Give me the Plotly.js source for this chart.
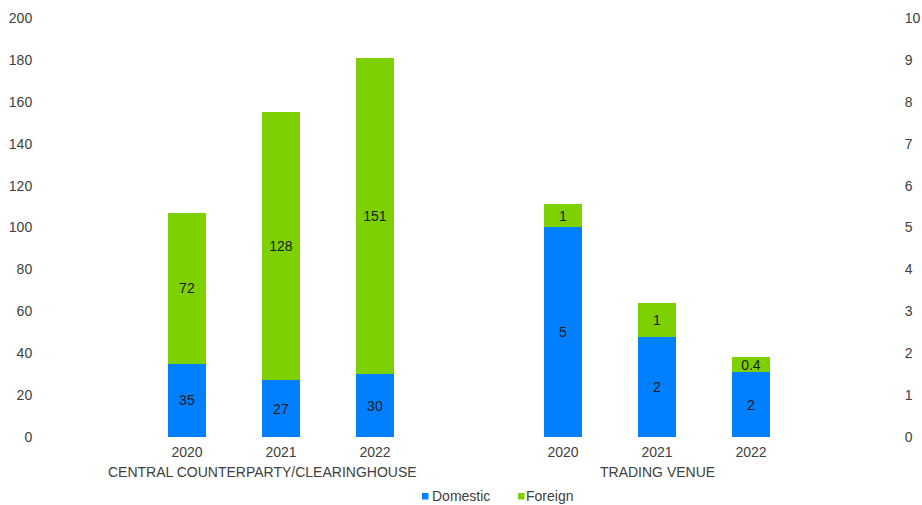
<!DOCTYPE html>
<html>
<head>
<meta charset="utf-8">
<script src="https://cdn.plot.ly/plotly-3.0.1.min.js"></script>
<style>
  html, body { margin: 0; padding: 0; background: #ffffff; }
  #chart { width: 922px; height: 505px; }
</style>
</head>
<body>
<div id="chart"></div>
<script>
// Categories
const years = ["2020", "2021", "2022"];
const groupNames = ["CENTRAL COUNTERPARTY/CLEARINGHOUSE", "TRADING VENUE"];
const seriesNames = ["Domestic", "Foreign"];

// Central counterparty / clearinghouse (left axis)
const ccpDomestic = [35, 27, 30];
const ccpForeign = [72, 128, 151];

// Trading venue (right axis)
const tvDomestic = [5.02, 2.38, 1.54];
const tvForeign = [0.53, 0.81, 0.36];

// Axis ticks
const leftTicks = [0, 20, 40, 60, 80, 100, 120, 140, 160, 180, 200];
const rightTicks = [0, 1, 2, 3, 4, 5, 6, 7, 8, 9, 10];

const BLUE = "#0080FF";
const GREEN = "#7ED100";
const FONT = "Liberation Sans, Arial, sans-serif";

// Whole numbers, one decimal for small values
function fmt(v) {
  return v < 0.5 ? v.toFixed(1) : String(Math.round(v));
}

function barTrace(y, color, name, xa, ya) {
  return {
    type: "bar",
    x: years,
    y: y,
    name: name,
    xaxis: xa,
    yaxis: ya,
    marker: { color: color, line: { width: 0 } },
    text: y.map(fmt),
    textposition: "inside",
    insidetextanchor: "middle",
    textangle: 0,
    constraintext: "none",
    textfont: { family: FONT, size: 14, color: "#1a1a1a" },
    hoverinfo: "none",
    showlegend: false,
    cliponaxis: false
  };
}

const data = [
  barTrace(ccpDomestic, BLUE, seriesNames[0], "x", "y"),
  barTrace(ccpForeign, GREEN, seriesNames[1], "x", "y"),
  barTrace(tvDomestic, BLUE, seriesNames[0], "x2", "y2"),
  barTrace(tvForeign, GREEN, seriesNames[1], "x2", "y2")
];

// Plot area in pixels
const W = 922, H = 505;
const M = { l: 46, r: 30, t: 18, b: 68 };
const plotW = W - M.l - M.r, plotH = H - M.t - M.b;
const px = v => (v - M.l) / plotW;
const py = v => (H - M.b - v) / plotH;

const tickFont = { family: FONT, size: 14, color: "#404040" };

const xCommon = {
  type: "category",
  showgrid: false,
  zeroline: false,
  showline: false,
  ticks: "outside",
  ticklen: 2,
  tickcolor: "rgba(0,0,0,0)",
  tickfont: tickFont,
  fixedrange: true
};

// Legend: colour keys and names
const legendKeys = [
  { x: 422, color: BLUE, text: seriesNames[0], tx: 431 },
  { x: 518, color: GREEN, text: seriesNames[1], tx: 525 }
];

const shapes = legendKeys.map(k => ({
  type: "rect", xref: "paper", yref: "paper",
  x0: px(k.x), x1: px(k.x + 6.5), y0: py(499.5), y1: py(493),
  fillcolor: k.color, line: { width: 0 }
}));

const annotations = legendKeys.map(k => ({
  xref: "paper", yref: "paper", x: px(k.tx), y: py(496),
  xanchor: "left", yanchor: "middle", showarrow: false,
  text: k.text, font: tickFont, borderpad: 0
})).concat([
  {
    xref: "x", yref: "paper", x: 0.8, y: py(472),
    xanchor: "center", yanchor: "middle", showarrow: false,
    text: groupNames[0], font: tickFont
  },
  {
    xref: "x2", yref: "paper", x: 1, y: py(472),
    xanchor: "center", yanchor: "middle", showarrow: false,
    text: groupNames[1], font: tickFont
  }
]);

const layout = {
  width: W,
  height: H,
  margin: M,
  paper_bgcolor: "#ffffff",
  plot_bgcolor: "#ffffff",
  barmode: "stack",
  bargap: 0.6,
  showlegend: false,
  font: { family: FONT, size: 14, color: "#404040" },
  xaxis: Object.assign({}, xCommon, { domain: [0, 0.5], range: [-1.5, 3.0], anchor: "y" }),
  xaxis2: Object.assign({}, xCommon, { domain: [0.5, 1], range: [-1, 3.5], anchor: "y" }),
  yaxis: {
    range: [0, 200],
    tickvals: leftTicks,
    showgrid: false, zeroline: false, showline: false,
    ticks: "outside", ticklen: 10, tickcolor: "rgba(0,0,0,0)",
    tickfont: tickFont, anchor: "x", fixedrange: true
  },
  yaxis2: {
    range: [0, 10],
    tickvals: rightTicks,
    overlaying: "y", side: "right", anchor: "x2",
    showgrid: false, zeroline: false, showline: false,
    ticks: "outside", ticklen: 9, tickcolor: "rgba(0,0,0,0)",
    tickfont: tickFont, fixedrange: true
  },
  shapes: shapes,
  annotations: annotations
};

Plotly.newPlot("chart", data, layout, { staticPlot: true, displayModeBar: false });
</script>
</body>
</html>
